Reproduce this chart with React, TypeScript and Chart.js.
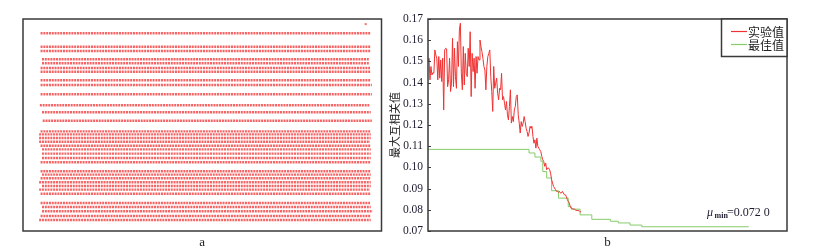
import React, { useEffect, useRef } from "react";
import { Chart, registerables } from "chart.js";
Chart.register(...registerables);

// ---------- Panel a: sampled rows ----------
const rowY = [93.3, 86.9, 84.9, 81.0, 79.1, 76.9, 75.1, 71.1, 68.9, 64.5, 59.3, 56.0, 52.0, 47.0, 45.6, 43.9, 42.1, 40.2, 38.5, 36.5, 34.4, 32.4, 28.2, 26.6, 24.9, 23.0, 21.2, 19.5, 17.6, 13.2, 11.3, 9.3, 7.1, 5.2];
const rowStart = [4.9, 4.9, 4.9, 5.3, 5.3, 4.9, 4.9, 4.9, 4.9, 4.9, 4.7, 5.3, 5.5, 4.9, 4.5, 4.5, 4.5, 4.9, 5.3, 5.3, 5.3, 4.9, 4.9, 5.3, 4.9, 4.5, 5.3, 4.5, 4.9, 4.9, 5.3, 5.3, 4.9, 4.5];
const rowEnd = [97.0, 97.0, 97.0, 96.6, 96.6, 96.8, 97.0, 97.0, 97.3, 97.3, 96.6, 97.0, 97.3, 97.0, 97.0, 97.0, 96.8, 97.0, 97.0, 97.0, 97.0, 97.0, 97.0, 97.0, 97.0, 97.0, 97.0, 96.8, 97.0, 96.8, 97.0, 97.5, 97.0, 97.0];
const outlierX = [95.6];
const outlierY = [97.6];
const labelA = "a";

// ---------- Panel b: correlation curves ----------
const redValues = [
  0.1499, 0.1515, 0.1413, 0.1476, 0.1436, 0.1447, 0.1444, 0.1554, 0.1530, 0.1515,
  0.1413, 0.1523, 0.1421, 0.1507, 0.1405, 0.1515, 0.1271, 0.1554, 0.1562, 0.1559,
  0.1381, 0.1413, 0.1515, 0.1358, 0.1397, 0.1609, 0.1381, 0.1562, 0.1428, 0.1373,
  0.1593, 0.1476, 0.1648, 0.1680, 0.1444, 0.1366, 0.1570, 0.1389, 0.1538, 0.1444,
  0.1428, 0.1562, 0.1476, 0.1640, 0.1334, 0.1538, 0.1452, 0.1515, 0.1373, 0.1523,
  0.1444, 0.1523, 0.1507, 0.1601, 0.1570, 0.1546, 0.1515, 0.1476, 0.1460, 0.1366,
  0.1476, 0.1523, 0.1538, 0.1554, 0.1428, 0.1358, 0.1264, 0.1476, 0.1373, 0.1397,
  0.1421, 0.1350, 0.1319, 0.1373, 0.1366, 0.1444, 0.1319, 0.1334, 0.1303, 0.1271,
  0.1311, 0.1248, 0.1224, 0.1287, 0.1366, 0.1209, 0.1240, 0.1216, 0.1271, 0.1287,
  0.1334, 0.1342, 0.1248, 0.1209, 0.1162, 0.1216, 0.1193, 0.1209, 0.1240, 0.1216,
  0.1185, 0.1169, 0.1146, 0.1162, 0.1193, 0.1185, 0.1193, 0.1146, 0.1114, 0.1130,
  0.1091, 0.1138, 0.1099, 0.1091, 0.1083, 0.1075, 0.1052, 0.1036, 0.1028, 0.1005,
  0.1020, 0.0989, 0.0997, 0.0997, 0.0989, 0.0973, 0.0942, 0.0926, 0.0910, 0.0903,
  0.0895, 0.0887, 0.0887, 0.0882, 0.0887, 0.0879, 0.0879, 0.0887, 0.0879, 0.0871,
  0.0871, 0.0863, 0.0848, 0.0840, 0.0832, 0.0816, 0.0808, 0.0805, 0.0804, 0.0804,
  0.0800, 0.0797, 0.0797, 0.0796, 0.0796, 0.0791, 0.0789,
];
const greenIter = [0, 103, 109, 115, 117, 121, 126, 133, 143, 146, 155, 167, 186, 194, 206, 218, 327];
const greenValue = [0.1085, 0.1068, 0.1049, 0.1029, 0.0981, 0.0950, 0.0890, 0.0855, 0.0815, 0.0803, 0.0776, 0.0755, 0.0746, 0.0738, 0.0728, 0.0720, 0.0720];
const yTicks = [0.07, 0.08, 0.09, 0.10, 0.11, 0.12, 0.13, 0.14, 0.15, 0.16, 0.17];
const seriesNames = ["实验值", "最佳值"];
const yTitle = "最大互相关值";
const muMinText = "=0.072 0";
const labelB = "b";
const xMaxB = 366;

const SERIF = "'Liberation Serif', 'DejaVu Serif', serif";
const CJK = "'Noto Sans CJK SC', sans-serif";
const FRAME = "#3a3a3a";
const RED = "rgb(240,50,50)";
const GREEN = "rgb(134,204,106)";

const framePlugin = {
  id: "frameA",
  afterDraw(chart: any) {
    const { ctx, chartArea } = chart;
    const { left, top, right, bottom } = chartArea;
    ctx.save();
    ctx.strokeStyle = FRAME;
    ctx.lineWidth = 1.5;
    ctx.strokeRect(left, top, right - left, bottom - top);
    ctx.restore();
  },
};

const plotBPlugin = {
  id: "decorB",
  afterDraw(chart: any) {
    const { ctx, chartArea, scales } = chart;
    const { left, top, right, bottom } = chartArea;
    ctx.save();
    // frame
    ctx.strokeStyle = FRAME;
    ctx.lineWidth = 1.5;
    ctx.strokeRect(left, top, right - left, bottom - top);
    // inner tick marks
    ctx.lineWidth = 1;
    yTicks.forEach((v) => {
      const py = Math.round(scales.y.getPixelForValue(v)) + 0.5;
      ctx.beginPath();
      ctx.moveTo(left, py);
      ctx.lineTo(left + 3, py);
      ctx.stroke();
    });
    // legend box
    const lw = 65.5;
    const lh = 37.5;
    const lx = right - lw;
    const ly = top;
    ctx.fillStyle = "#ffffff";
    ctx.fillRect(lx, ly, lw, lh);
    ctx.lineWidth = 1.5;
    ctx.strokeStyle = FRAME;
    ctx.strokeRect(lx, ly, lw, lh);
    seriesNames.forEach((name, i) => {
      const cy = Math.round(ly + 12 + i * 13);
      ctx.strokeStyle = i === 0 ? RED : GREEN;
      ctx.lineWidth = 1.2;
      ctx.beginPath();
      ctx.moveTo(lx + 9.5, cy + 0.5);
      ctx.lineTo(lx + 25.5, cy + 0.5);
      ctx.stroke();
      ctx.fillStyle = "#222222";
      ctx.font = `12px ${CJK}`;
      ctx.textBaseline = "middle";
      ctx.textAlign = "left";
      ctx.fillText(name, lx + 26.5, cy + 1);
    });
    // mu_min annotation
    ctx.textBaseline = "alphabetic";
    ctx.fillStyle = "#1c1c30";
    ctx.font = `italic 12px ${SERIF}`;
    ctx.fillText("μ", right - 80, bottom - 15);
    ctx.font = `bold 8px ${SERIF}`;
    ctx.fillText("min", right - 72.5, bottom - 13);
    ctx.font = `12px ${SERIF}`;
    ctx.fillText(muMinText, right - 60, bottom - 15);
    ctx.restore();
  },
};

export default function App() {
  const refA = useRef<HTMLCanvasElement | null>(null);
  const refB = useRef<HTMLCanvasElement | null>(null);

  useEffect(() => {
    const rowDatasets: any[] = rowY.map((y, i) => ({
      type: "line",
      data: [
        { x: rowStart[i], y },
        { x: rowEnd[i], y },
      ],
      borderColor: "rgba(240,40,40,0.72)",
      borderWidth: 2.4,
      borderDash: [2, 0.8],
      pointRadius: 0,
      fill: false,
    }));
    rowDatasets.push({
      type: "scatter",
      data: outlierX.map((x, i) => ({ x, y: outlierY[i] })),
      backgroundColor: "rgba(238,60,60,0.7)",
      borderWidth: 0,
      pointRadius: 1.2,
      showLine: false,
    });

    const chartA = new Chart(refA.current as HTMLCanvasElement, {
      type: "line",
      data: { datasets: rowDatasets },
      options: {
        animation: false,
        responsive: false,
        layout: { padding: { left: 23, top: 19, right: 18.5, bottom: 0 } },
        plugins: { legend: { display: false }, tooltip: { enabled: false } },
        scales: {
          x: {
            type: "linear",
            min: 0,
            max: 100,
            ticks: { display: false },
            grid: { display: false },
            border: { display: false },
            title: {
              display: true,
              text: labelA,
              color: "#222222",
              font: { family: SERIF, size: 13 },
              padding: { top: 0, bottom: 2 },
            },
            afterFit: (s: any) => {
              s.height = 21;
            },
          },
          y: { type: "linear", min: 0, max: 100, display: false },
        },
      } as any,
      plugins: [framePlugin],
    });

    const chartB = new Chart(refB.current as HTMLCanvasElement, {
      type: "line",
      data: {
        datasets: [
          {
            label: seriesNames[0],
            data: redValues.map((v, i) => ({ x: i, y: v })),
            borderColor: RED,
            borderWidth: 1,
            pointRadius: 0,
            tension: 0,
          },
          {
            label: seriesNames[1],
            data: greenIter.map((x, i) => ({ x, y: greenValue[i] })),
            borderColor: GREEN,
            borderWidth: 1,
            pointRadius: 0,
            stepped: true,
          },
        ],
      },
      options: {
        animation: false,
        responsive: false,
        layout: { padding: { left: 0, top: 19, right: 33, bottom: 0 } },
        plugins: { legend: { display: false }, tooltip: { enabled: false } },
        scales: {
          x: {
            type: "linear",
            min: 0,
            max: xMaxB,
            ticks: { display: false },
            grid: { display: false },
            border: { display: false },
            title: {
              display: true,
              text: labelB,
              color: "#222222",
              font: { family: SERIF, size: 13 },
              padding: { top: 0, bottom: 2 },
            },
            afterFit: (s: any) => {
              s.height = 21;
            },
          },
          y: {
            type: "linear",
            min: 0.07,
            max: 0.17,
            afterBuildTicks: (s: any) => {
              s.ticks = yTicks.map((v) => ({ value: v }));
            },
            ticks: {
              padding: 5,
              color: "#1c1c30",
              font: { family: SERIF, size: 11.5 },
              callback: (v: any) => Number(v).toFixed(2),
            },
            grid: { display: false, drawTicks: false },
            border: { display: false },
            title: {
              display: true,
              text: yTitle,
              color: "#222222",
              font: { family: CJK, size: 11 },
              padding: { top: 8, bottom: 0 },
            },
            afterFit: (s: any) => {
              s.width = 48;
            },
          },
        },
      } as any,
      plugins: [plotBPlugin],
    });

    return () => {
      chartA.destroy();
      chartB.destroy();
    };
  }, []);

  return (
    <div style={{ position: "fixed", left: 0, top: 0, width: 820, height: 252, background: "#fff" }}>
      <canvas
        ref={refA}
        width={400}
        height={252}
        style={{ position: "absolute", left: 0, top: 0, width: 400, height: 252 }}
      />
      <canvas
        ref={refB}
        width={440}
        height={252}
        style={{ position: "absolute", left: 380, top: 0, width: 440, height: 252 }}
      />
    </div>
  );
}
